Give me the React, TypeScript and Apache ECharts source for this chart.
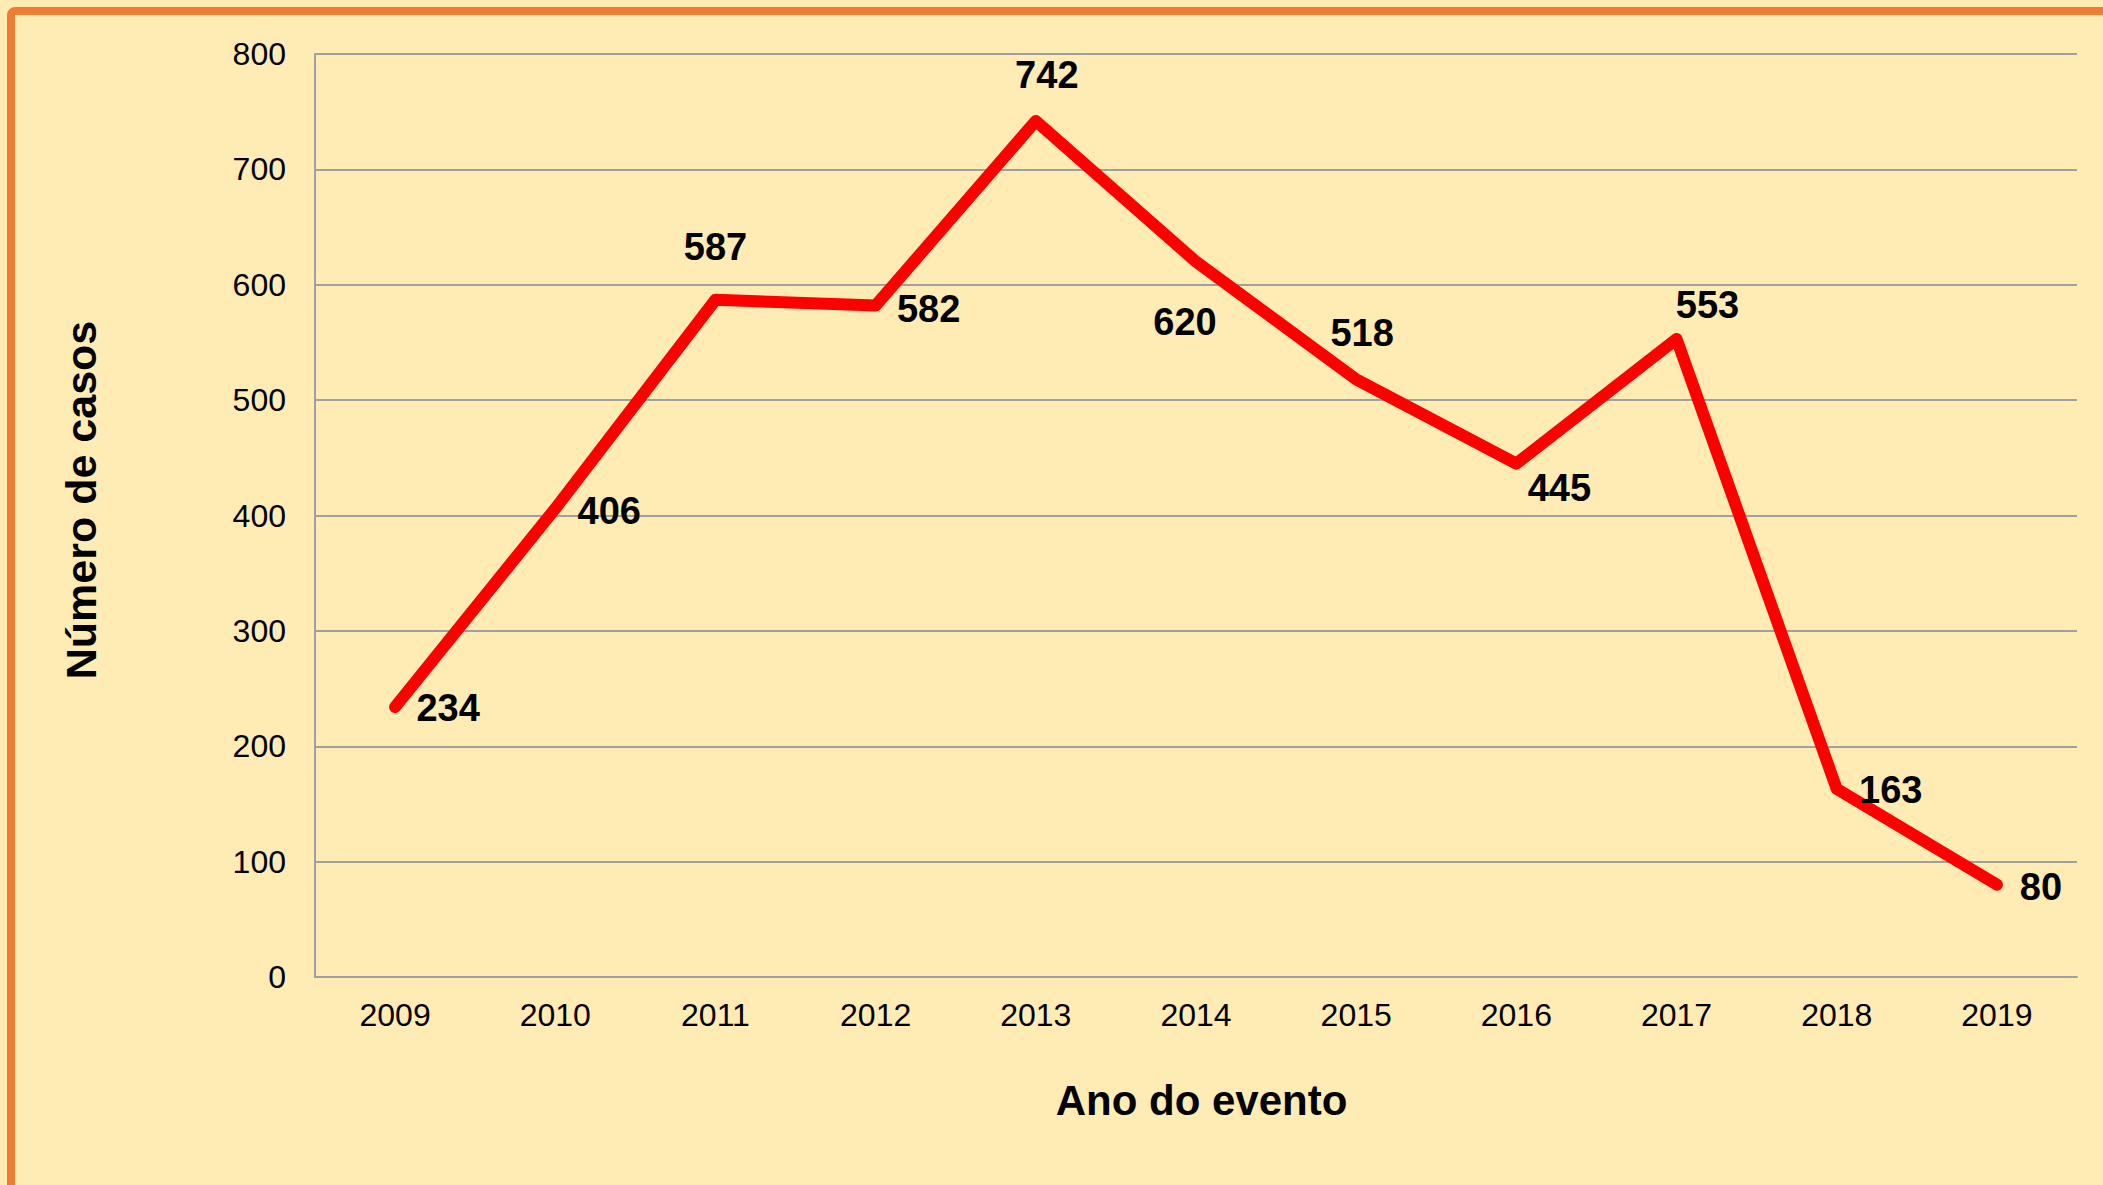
import React, { useEffect, useRef } from "react";
import * as echarts from "echarts";

const years = ["2009", "2010", "2011", "2012", "2013", "2014", "2015", "2016", "2017", "2018", "2019"];
const cases = [234, 406, 587, 582, 742, 620, 518, 445, 553, 163, 80];
const labelOffsets: [number, number][] = [
  [53, 1], [54, 2], [0, -53], [53, 3], [11, -46], [-11, 60], [6, -46], [43, 24], [31, -34], [54, 1], [44, 2],
];
const yTicks = { min: 0, max: 800, interval: 100 };
const xTitle = "Ano do evento";
const yTitle = "Número de casos";

const FONT = "'Liberation Sans', Arial, sans-serif";

export default function App() {
  const ref = useRef<HTMLDivElement>(null);
  useEffect(() => {
    if (!ref.current) return;
    const chart = echarts.init(ref.current, undefined, { renderer: "svg" });
    chart.setOption({
      animation: false,
      backgroundColor: "#FFECB4",
      textStyle: { fontFamily: FONT },
      graphic: [
        {
          type: "rect",
          shape: { x: 11, y: 11, width: 2300, height: 1400, r: 4 },
          style: { fill: "none", stroke: "#ED7D31", lineWidth: 8 },
          z: 100,
        },
      ],
      grid: { left: 315, right: 26, top: 54, bottom: 208, containLabel: false },
      xAxis: {
        type: "category",
        data: years,
        boundaryGap: true,
        axisLine: { show: true, lineStyle: { color: "#A0A0A0", width: 2 } },
        axisTick: { show: false },
        axisLabel: { color: "#000", fontSize: 32, fontFamily: FONT, margin: 22 },
        name: xTitle,
        nameLocation: "middle",
        nameGap: 102,
        nameTextStyle: {
          color: "#000",
          fontSize: 42,
          fontWeight: "bold",
          fontFamily: FONT,
          padding: [0, 0, 0, 11],
        },
      },
      yAxis: {
        type: "value",
        min: yTicks.min,
        max: yTicks.max,
        interval: yTicks.interval,
        axisLine: { show: true, lineStyle: { color: "#A0A0A0", width: 2 } },
        axisTick: { show: false },
        splitLine: { show: true, lineStyle: { color: "#A0A0A0", width: 2 } },
        axisLabel: { color: "#000", fontSize: 32, fontFamily: FONT, margin: 29 },
        name: yTitle,
        nameLocation: "middle",
        nameRotate: 90,
        nameGap: 213,
        nameTextStyle: {
          color: "#000",
          fontSize: 43,
          fontWeight: "bold",
          fontFamily: FONT,
          padding: [0, 0, 0, 31],
        },
      },
      series: [
        {
          type: "line",
          data: cases.map((v, i) => ({
            value: v,
            label: { offset: labelOffsets[i] },
          })),
          symbol: "circle",
          symbolSize: 0.1,
          showSymbol: true,
          itemStyle: { color: "#FF0000" },
          lineStyle: { color: "#FF0000", width: 12, cap: "round", join: "round" },
          label: {
            show: true,
            position: "inside",
            color: "#000",
            fontSize: 38,
            fontWeight: "bold",
            fontFamily: FONT,
          },
        },
      ],
    });
    return () => chart.dispose();
  }, []);
  return (
    <div
      ref={ref}
      style={{ position: "fixed", left: 0, top: 0, width: 2103, height: 1185 }}
    />
  );
}
